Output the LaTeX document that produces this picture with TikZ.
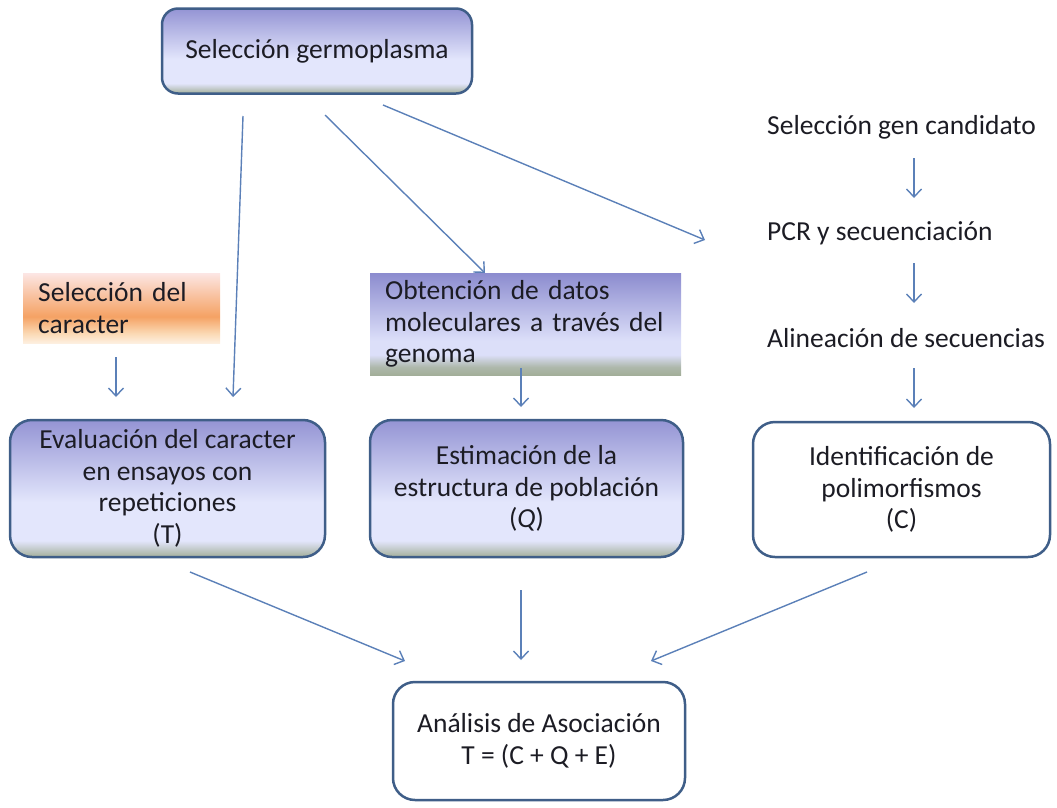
\documentclass[tikz,border=0pt]{standalone}
\usepackage{fontspec}
\setmainfont{Carlito}
\usetikzlibrary{arrows.meta,calc}
\definecolor{arrowc}{HTML}{5B80B8}
\definecolor{bordc}{HTML}{3F5E88}
\definecolor{textc}{HTML}{1C1C24}
\definecolor{lavtop}{HTML}{9494D4}
\definecolor{lavlight}{HTML}{E3E6FC}
\definecolor{gband}{HTML}{A3AF9A}
\definecolor{obttop}{HTML}{8C8CCF}
\definecolor{obtlight}{HTML}{DCDFF9}
\definecolor{obtband}{HTML}{A2AE98}
\definecolor{ortop}{HTML}{FCE6E4}
\definecolor{ormid}{HTML}{F5A264}
\definecolor{orlow}{HTML}{FBD9B4}
\pgfdeclareverticalshading{lavshade}{100bp}{color(0bp)=(gband); color(25bp)=(gband); color(31bp)=(lavlight); color(45bp)=(lavlight); color(75bp)=(lavtop); color(100bp)=(lavtop)}
\pgfdeclareverticalshading{obtshade}{100bp}{color(0bp)=(obtband); color(25bp)=(obtband); color(29bp)=(obtband!80!obtlight); color(35bp)=(obtlight); color(42bp)=(obtlight); color(75bp)=(obttop); color(100bp)=(obttop)}
\pgfdeclareverticalshading{orshade}{100bp}{color(0bp)=(orlow!40!white); color(25bp)=(orlow!40!white); color(32bp)=(orlow); color(44bp)=(ormid); color(60bp)=(ormid!50!ortop); color(75bp)=(ortop); color(100bp)=(ortop)}
\begin{document}
\begin{tikzpicture}[x=1pt,y=-1pt,
  txt/.style={font=\fontsize{27.5}{31.5}\selectfont, text=textc},
  rbox/.style={txt, draw=bordc, line width=2.5pt, rounded corners=22pt, align=center, inner sep=0pt},
  flat/.style={txt, align=left, inner xsep=15pt, inner ysep=0pt, anchor=north west},
  arr/.style={draw=arrowc, line width=1.4pt, -{Straight Barb[length=8pt,width=15pt,line width=1.4pt]}}]
\useasboundingbox (0,0) rectangle (1057,807);

% boxes
\node[rbox, shading=lavshade, rounded corners=16pt, minimum width=310pt, minimum height=85pt] (germ) at (317,51) {Selección germoplasma};
\node[flat, shading=orshade, text width=167pt, minimum height=70pt] (car) at (23,273) {Selección del\\caracter};
\node[flat, shading=obtshade, text width=281pt, minimum height=102pt] (obt) at (370,273) {Obtención de datos\\moleculares a través del\\genoma};
\node[rbox, shading=lavshade, minimum width=315pt, minimum height=137pt] (eval) at (167.5,488.5) {Evaluación del caracter\\en ensayos con\\repeticiones\\(T)};
\node[rbox, shading=lavshade, minimum width=313pt, minimum height=137pt] (est) at (526.5,488.5) {Estimación de la\\estructura de población\\(\textit{Q})};
\node[rbox, fill=white, minimum width=297pt, minimum height=135pt] (ident) at (901.5,489.5) {Identificación de\\polimorfismos\\(C)};
\node[rbox, fill=white, minimum width=292pt, minimum height=118pt] (anal) at (539,741) {Análisis de Asociación\\T = (C + Q + E)};

% free texts
\node[txt, anchor=west, inner sep=0pt] (gen) at (767,127) {Selección gen candidato};
\node[txt, anchor=west, inner sep=0pt] (pcr) at (767,233) {PCR y secuenciación};
\node[txt, anchor=west, inner sep=0pt] (alin) at (767,338) {Alineación de secuencias};

% arrow end points
\coordinate (g1) at (243,116); \coordinate (e1) at (233,397);
\coordinate (g2) at (325,115); \coordinate (o2) at (485,273);
\coordinate (g3) at (383,105); \coordinate (p3) at (705,240);
\coordinate (c4) at (116,357); \coordinate (e4) at (116,397);
\coordinate (o5) at (521,368); \coordinate (s5) at (521,407);
\coordinate (gen6) at (914,158); \coordinate (pcr6) at (914,198);
\coordinate (pcr7) at (914,263); \coordinate (al7) at (914,303);
\coordinate (al8) at (914,368); \coordinate (id8) at (914,408);
\coordinate (ev9) at (190,572); \coordinate (an9) at (405,661);
\coordinate (es10) at (521,590); \coordinate (an10) at (521,660);
\coordinate (id11) at (867,572); \coordinate (an11) at (651,661);

\draw[arr] (g1) -- (e1);
\draw[arr] (g2) -- (o2);
\draw[arr] (g3) -- (p3);
\draw[arr] (c4) -- (e4);
\draw[arr] (o5) -- (s5);
\draw[arr] (gen6) -- (pcr6);
\draw[arr] (pcr7) -- (al7);
\draw[arr] (al8) -- (id8);
\draw[arr] (ev9) -- (an9);
\draw[arr] (es10) -- (an10);
\draw[arr] (id11) -- (an11);
\end{tikzpicture}
\end{document}
